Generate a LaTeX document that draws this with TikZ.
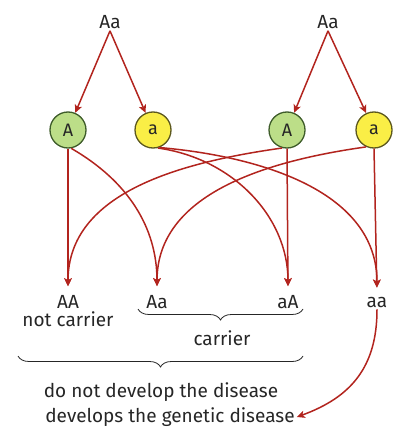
\documentclass[tikz,border=0pt]{standalone}
\usepackage{fontspec}
\setmainfont{Fira Sans}
\usetikzlibrary{arrows.meta,decorations.pathreplacing}
\definecolor{arrowred}{RGB}{178,36,30}
\definecolor{greenfill}{RGB}{188,222,136}
\definecolor{greenline}{RGB}{62,92,42}
\definecolor{yellowfill}{RGB}{250,238,70}
\definecolor{yellowline}{RGB}{92,88,30}
\definecolor{textgray}{RGB}{38,38,38}
\tikzset{
  txt/.style={text=textgray,font=\fontsize{19}{21}\selectfont,inner sep=2pt},
  gamete/.style={circle,minimum size=36pt,inner sep=0pt,line width=1.3pt,
    font=\fontsize{18}{20}\selectfont,text=textgray},
  bigA/.style={gamete,draw=greenline,fill=greenfill},
  smalla/.style={gamete,draw=yellowline,fill=yellowfill},
  cross/.style={draw=arrowred,line width=1.5pt,-{Stealth[length=8pt,width=7.5pt,inset=2pt]}},
  brace/.style={draw=textgray,line width=0.8pt,decorate,decoration={brace,mirror,amplitude=11pt}}
}
\begin{document}
\begin{tikzpicture}[x=1pt,y=1pt]
\useasboundingbox (0,0) rectangle (396,-438);
\node[txt] (p1) at (110,-22) {Aa};
\node[txt] (p2) at (328,-22) {Aa};
\node[bigA] (g1) at (68,-130) {A};
\node[smalla] (g2) at (153,-130) {a};
\node[bigA] (g3) at (287,-130) {A};
\node[smalla] (g4) at (374,-130) {a};
\node[txt] (c1) at (68,-302) {AA};
\node[txt] (c2) at (157,-302) {Aa};
\node[txt] (c3) at (288,-302) {aA};
\node[txt] (c4) at (377,-302) {aa};
\node[txt] (n1) at (68,-319) {not carrier};
\node[txt] (n2) at (222,-338) {carrier};
\node[txt] (d1) at (161,-392) {do not develop the disease};
\node[txt] (d2) at (170,-417) {develops the genetic disease};

\draw[cross] (p1.south) -- (g1);
\draw[cross] (p1.south) -- (g2);
\draw[cross] (p2.south) -- (g3);
\draw[cross] (p2.south) -- (g4);

\draw[cross,shorten >=7pt] (g1.south) -- (c1.north);
\draw[cross,shorten >=7pt] (g1.-80) to[out=-30,in=90] (c2.north);
\draw[cross,shorten >=7pt] (g2.-75) to[out=-8,in=90] (c3.north);
\draw[cross,shorten >=7pt] (g2.-70) to[out=-5,in=90] (c4.north);
\draw[cross,shorten >=7pt] (g3.south) -- (c3.north);
\draw[cross,shorten >=7pt] (g3.-105) to[out=188,in=90] (c1.north);
\draw[cross,shorten >=7pt] (g4.-115) to[out=188,in=90] (c2.north);
\draw[cross,shorten >=7pt] (g4.south) -- (c4.north);

\draw[brace] (138,-309) -- (303,-309);
\draw[brace] (18,-356) -- (303,-356);

\draw[cross] (c4.south) to[out=-90,in=20,looseness=1.1] (d2.east);
\end{tikzpicture}
\end{document}
